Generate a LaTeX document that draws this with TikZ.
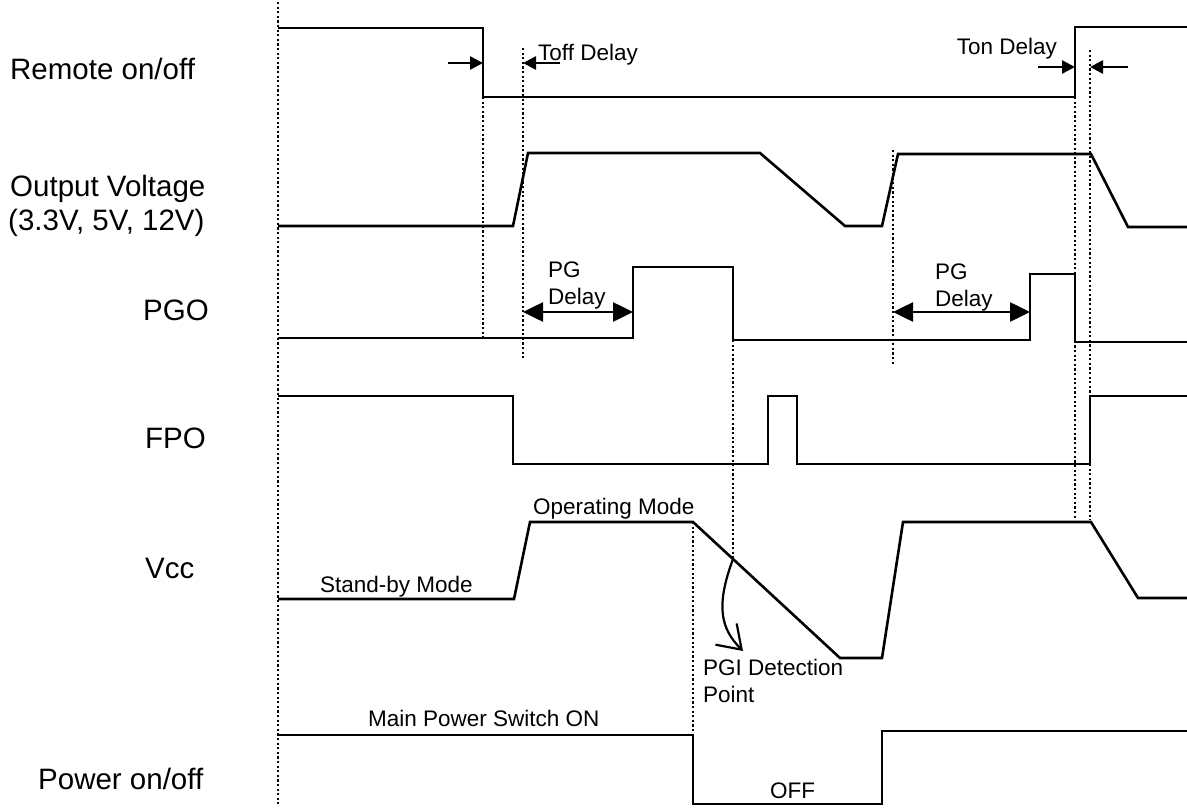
\documentclass[tikz,border=0pt]{standalone}
\usepackage{fontspec}
\setmainfont{Liberation Sans}
\usetikzlibrary{positioning, arrows.meta}

\begin{document}
\begin{tikzpicture}[
    x=1pt, y=-1pt,
    % Waveforms and guides
    wave/.style={line width=2.6pt, line join=miter},
    guide/.style={line width=2.2pt, dash pattern=on 2.2pt off 2.4pt},
    % Arrows
    edge_arrow/.style={line width=2.6pt, -{Triangle[length=13pt,width=13pt]}},
    delay_arrow/.style={line width=2.6pt,
        {Triangle[length=20pt,width=19pt]}-{Triangle[length=20pt,width=19pt]}},
    % Labels
    sig_label/.style={font=\fontsize{29.5}{34}\selectfont, inner sep=0pt, anchor=base west},
    note_text/.style={font=\fontsize{22.5}{27}\selectfont, inner sep=0pt, anchor=base west}
]

    \useasboundingbox (0,0) rectangle (1187,808);

    % --- SIGNAL NAMES ---
    \node[sig_label] (L-remote) at (10,80) {Remote on/off};
    \node[sig_label] (L-out) at (10,196) {Output Voltage};
    \node[sig_label] (L-out2) at (8,230) {(3.3V, 5V, 12V)};
    \node[sig_label] (L-pgo) at (143,320) {PGO};
    \node[sig_label] (L-fpo) at (145,448) {FPO};
    \node[sig_label] (L-vcc) at (145,578) {Vcc};
    \node[sig_label] (L-power) at (38,789) {Power on/off};

    % --- TIMING GUIDES ---
    \foreach \x/\ya/\yb in {278/2/804, 483/97/338, 523/48/360, 693/522/735,
                            733/340/559, 893/150/365, 1075/97/520, 1090/50/520} {
        \draw[guide] (\x,\ya) -- (\x,\yb);
    }

    % --- WAVEFORMS ---
    % Remote on/off
    \draw[wave] (278,28) -- (483,28) -- (483,97) -- (1075,97) -- (1075,27) -- (1187,27);
    % Output voltage
    \draw[wave] (278,226) -- (513,226) -- (528,153) -- (760,153) -- (845,226)
        -- (882,226) -- (898,154) -- (1091,154) -- (1128,227) -- (1187,227);
    % PGO
    \draw[wave] (278,338) -- (633,338) -- (633,267) -- (733,267) -- (733,340)
        -- (1030,340) -- (1030,274) -- (1075,274) -- (1075,342) -- (1187,342);
    % FPO
    \draw[wave] (278,396) -- (513,396) -- (513,464) -- (768,464) -- (768,396)
        -- (797,396) -- (797,464) -- (1090,464) -- (1090,396) -- (1187,396);
    % Vcc
    \draw[wave] (278,599) -- (514,599) -- (530,522) -- (693,522) -- (840,658)
        -- (882,658) -- (903,522) -- (1091,522) -- (1138,598) -- (1187,598);
    % Power on/off
    \draw[wave] (278,735) -- (693,735) -- (693,804) -- (882,804) -- (882,731) -- (1187,731);

    % --- DELAY MARKERS ---
    \coordinate (toff-l) at (448,63);
    \coordinate (toff-fall) at (483,63);
    \coordinate (toff-r) at (560,63);
    \coordinate (toff-end) at (523,63);
    \coordinate (ton-l) at (1038,67);
    \coordinate (ton-rise) at (1075,67);
    \coordinate (ton-r) at (1128,67);
    \coordinate (ton-end) at (1090,67);
    \draw[edge_arrow] (toff-l) -- (toff-fall);
    \draw[edge_arrow] (toff-r) -- (toff-end);
    \draw[edge_arrow] (ton-l) -- (ton-rise);
    \draw[edge_arrow] (ton-r) -- (ton-end);

    \node[note_text] (toff) at (538,61) {Toff Delay};
    \node[note_text, anchor=base east] (ton) at (1057,55) {Ton Delay};

    \coordinate (pg1-a) at (523,312);
    \coordinate (pg1-b) at (633,312);
    \coordinate (pg2-a) at (893,312);
    \coordinate (pg2-b) at (1030,312);
    \draw[delay_arrow] (pg1-a) -- (pg1-b);
    \draw[delay_arrow] (pg2-a) -- (pg2-b);

    \node[note_text] (pg1-t) at (548,277) {PG};
    \node[note_text] (pg1-d) at (548,304) {Delay};
    \node[note_text] (pg2-t) at (935,279) {PG};
    \node[note_text] (pg2-d) at (935,306) {Delay};

    % --- MODE NOTES ---
    \node[note_text] (standby) at (320,592) {Stand-by Mode};
    \node[note_text] (operating) at (533,514) {Operating Mode};
    \node[note_text] (pgi) at (703,675) {PGI Detection};
    \node[note_text] (pgi2) at (703,702) {Point};
    \node[note_text] (mainsw) at (368,726) {Main Power Switch ON};
    \node[note_text] (off) at (770,798) {OFF};

    % PGI detection pointer
    \coordinate (pgi-start) at (733,559);
    \coordinate (pgi-tip) at (743,651);
    \draw[line width=2.2pt, -{Straight Barb[length=22pt,width=30pt]}]
        (pgi-start) .. controls (716,605) and (720,628) .. (pgi-tip);

\end{tikzpicture}
\end{document}
